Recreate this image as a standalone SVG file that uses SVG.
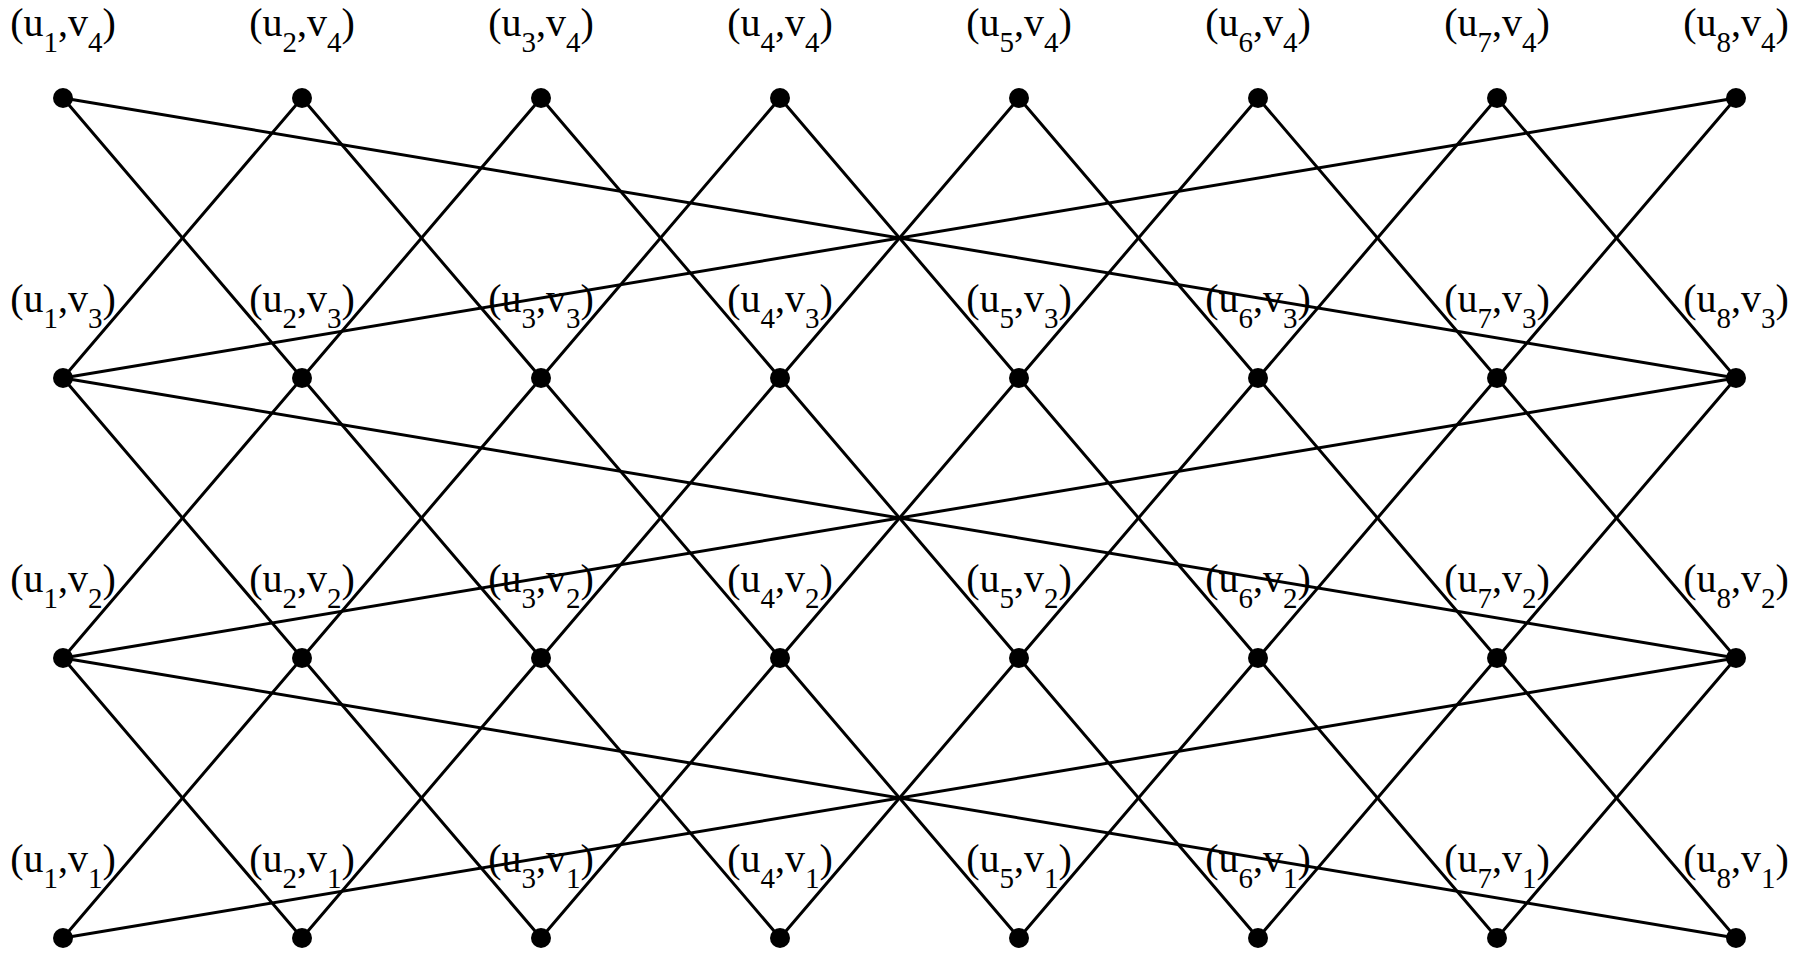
<svg xmlns="http://www.w3.org/2000/svg" width="1797" height="954" viewBox="0 0 1797 954">
<style>
.e{stroke:#000;stroke-width:3;fill:none;stroke-linecap:round}
.d{fill:#000}
.t{font-family:"Liberation Serif","Times New Roman",serif;font-size:40px;fill:#000;text-anchor:middle}
.s{font-size:29px}
</style>
<rect width="1797" height="954" fill="#fff"/>
<g id="connectors">
<line class="e" x1="63" y1="938" x2="302" y2="658"/><line class="e" x1="63" y1="658" x2="302" y2="938"/><line class="e" x1="63" y1="658" x2="302" y2="378"/><line class="e" x1="63" y1="378" x2="302" y2="658"/><line class="e" x1="63" y1="378" x2="302" y2="98"/><line class="e" x1="63" y1="98" x2="302" y2="378"/>
<line class="e" x1="302" y1="938" x2="541" y2="658"/><line class="e" x1="302" y1="658" x2="541" y2="938"/><line class="e" x1="302" y1="658" x2="541" y2="378"/><line class="e" x1="302" y1="378" x2="541" y2="658"/><line class="e" x1="302" y1="378" x2="541" y2="98"/><line class="e" x1="302" y1="98" x2="541" y2="378"/>
<line class="e" x1="541" y1="938" x2="780" y2="658"/><line class="e" x1="541" y1="658" x2="780" y2="938"/><line class="e" x1="541" y1="658" x2="780" y2="378"/><line class="e" x1="541" y1="378" x2="780" y2="658"/><line class="e" x1="541" y1="378" x2="780" y2="98"/><line class="e" x1="541" y1="98" x2="780" y2="378"/>
<line class="e" x1="780" y1="938" x2="1019" y2="658"/><line class="e" x1="780" y1="658" x2="1019" y2="938"/><line class="e" x1="780" y1="658" x2="1019" y2="378"/><line class="e" x1="780" y1="378" x2="1019" y2="658"/><line class="e" x1="780" y1="378" x2="1019" y2="98"/><line class="e" x1="780" y1="98" x2="1019" y2="378"/>
<line class="e" x1="1019" y1="938" x2="1258" y2="658"/><line class="e" x1="1019" y1="658" x2="1258" y2="938"/><line class="e" x1="1019" y1="658" x2="1258" y2="378"/><line class="e" x1="1019" y1="378" x2="1258" y2="658"/><line class="e" x1="1019" y1="378" x2="1258" y2="98"/><line class="e" x1="1019" y1="98" x2="1258" y2="378"/>
<line class="e" x1="1258" y1="938" x2="1497" y2="658"/><line class="e" x1="1258" y1="658" x2="1497" y2="938"/><line class="e" x1="1258" y1="658" x2="1497" y2="378"/><line class="e" x1="1258" y1="378" x2="1497" y2="658"/><line class="e" x1="1258" y1="378" x2="1497" y2="98"/><line class="e" x1="1258" y1="98" x2="1497" y2="378"/>
<line class="e" x1="1497" y1="938" x2="1736" y2="658"/><line class="e" x1="1497" y1="658" x2="1736" y2="938"/><line class="e" x1="1497" y1="658" x2="1736" y2="378"/><line class="e" x1="1497" y1="378" x2="1736" y2="658"/><line class="e" x1="1497" y1="378" x2="1736" y2="98"/><line class="e" x1="1497" y1="98" x2="1736" y2="378"/>
<line class="e" x1="1736" y1="938" x2="63" y2="658"/><line class="e" x1="1736" y1="658" x2="63" y2="938"/><line class="e" x1="1736" y1="658" x2="63" y2="378"/><line class="e" x1="1736" y1="378" x2="63" y2="658"/><line class="e" x1="1736" y1="378" x2="63" y2="98"/><line class="e" x1="1736" y1="98" x2="63" y2="378"/>
</g>
<g id="n1-4"><circle class="d" cx="63" cy="98" r="10"/><text class="t" x="63" y="36">(u<tspan class="s" dy="16">1</tspan><tspan dy="-16">,v</tspan><tspan class="s" dy="16">4</tspan><tspan dy="-16">)</tspan></text></g>
<g id="n2-4"><circle class="d" cx="302" cy="98" r="10"/><text class="t" x="302" y="36">(u<tspan class="s" dy="16">2</tspan><tspan dy="-16">,v</tspan><tspan class="s" dy="16">4</tspan><tspan dy="-16">)</tspan></text></g>
<g id="n3-4"><circle class="d" cx="541" cy="98" r="10"/><text class="t" x="541" y="36">(u<tspan class="s" dy="16">3</tspan><tspan dy="-16">,v</tspan><tspan class="s" dy="16">4</tspan><tspan dy="-16">)</tspan></text></g>
<g id="n4-4"><circle class="d" cx="780" cy="98" r="10"/><text class="t" x="780" y="36">(u<tspan class="s" dy="16">4</tspan><tspan dy="-16">,v</tspan><tspan class="s" dy="16">4</tspan><tspan dy="-16">)</tspan></text></g>
<g id="n5-4"><circle class="d" cx="1019" cy="98" r="10"/><text class="t" x="1019" y="36">(u<tspan class="s" dy="16">5</tspan><tspan dy="-16">,v</tspan><tspan class="s" dy="16">4</tspan><tspan dy="-16">)</tspan></text></g>
<g id="n6-4"><circle class="d" cx="1258" cy="98" r="10"/><text class="t" x="1258" y="36">(u<tspan class="s" dy="16">6</tspan><tspan dy="-16">,v</tspan><tspan class="s" dy="16">4</tspan><tspan dy="-16">)</tspan></text></g>
<g id="n7-4"><circle class="d" cx="1497" cy="98" r="10"/><text class="t" x="1497" y="36">(u<tspan class="s" dy="16">7</tspan><tspan dy="-16">,v</tspan><tspan class="s" dy="16">4</tspan><tspan dy="-16">)</tspan></text></g>
<g id="n8-4"><circle class="d" cx="1736" cy="98" r="10"/><text class="t" x="1736" y="36">(u<tspan class="s" dy="16">8</tspan><tspan dy="-16">,v</tspan><tspan class="s" dy="16">4</tspan><tspan dy="-16">)</tspan></text></g>
<g id="n1-3"><circle class="d" cx="63" cy="378" r="10"/><text class="t" x="63" y="312">(u<tspan class="s" dy="16">1</tspan><tspan dy="-16">,v</tspan><tspan class="s" dy="16">3</tspan><tspan dy="-16">)</tspan></text></g>
<g id="n2-3"><circle class="d" cx="302" cy="378" r="10"/><text class="t" x="302" y="312">(u<tspan class="s" dy="16">2</tspan><tspan dy="-16">,v</tspan><tspan class="s" dy="16">3</tspan><tspan dy="-16">)</tspan></text></g>
<g id="n3-3"><circle class="d" cx="541" cy="378" r="10"/><text class="t" x="541" y="312">(u<tspan class="s" dy="16">3</tspan><tspan dy="-16">,v</tspan><tspan class="s" dy="16">3</tspan><tspan dy="-16">)</tspan></text></g>
<g id="n4-3"><circle class="d" cx="780" cy="378" r="10"/><text class="t" x="780" y="312">(u<tspan class="s" dy="16">4</tspan><tspan dy="-16">,v</tspan><tspan class="s" dy="16">3</tspan><tspan dy="-16">)</tspan></text></g>
<g id="n5-3"><circle class="d" cx="1019" cy="378" r="10"/><text class="t" x="1019" y="312">(u<tspan class="s" dy="16">5</tspan><tspan dy="-16">,v</tspan><tspan class="s" dy="16">3</tspan><tspan dy="-16">)</tspan></text></g>
<g id="n6-3"><circle class="d" cx="1258" cy="378" r="10"/><text class="t" x="1258" y="312">(u<tspan class="s" dy="16">6</tspan><tspan dy="-16">,v</tspan><tspan class="s" dy="16">3</tspan><tspan dy="-16">)</tspan></text></g>
<g id="n7-3"><circle class="d" cx="1497" cy="378" r="10"/><text class="t" x="1497" y="312">(u<tspan class="s" dy="16">7</tspan><tspan dy="-16">,v</tspan><tspan class="s" dy="16">3</tspan><tspan dy="-16">)</tspan></text></g>
<g id="n8-3"><circle class="d" cx="1736" cy="378" r="10"/><text class="t" x="1736" y="312">(u<tspan class="s" dy="16">8</tspan><tspan dy="-16">,v</tspan><tspan class="s" dy="16">3</tspan><tspan dy="-16">)</tspan></text></g>
<g id="n1-2"><circle class="d" cx="63" cy="658" r="10"/><text class="t" x="63" y="592">(u<tspan class="s" dy="16">1</tspan><tspan dy="-16">,v</tspan><tspan class="s" dy="16">2</tspan><tspan dy="-16">)</tspan></text></g>
<g id="n2-2"><circle class="d" cx="302" cy="658" r="10"/><text class="t" x="302" y="592">(u<tspan class="s" dy="16">2</tspan><tspan dy="-16">,v</tspan><tspan class="s" dy="16">2</tspan><tspan dy="-16">)</tspan></text></g>
<g id="n3-2"><circle class="d" cx="541" cy="658" r="10"/><text class="t" x="541" y="592">(u<tspan class="s" dy="16">3</tspan><tspan dy="-16">,v</tspan><tspan class="s" dy="16">2</tspan><tspan dy="-16">)</tspan></text></g>
<g id="n4-2"><circle class="d" cx="780" cy="658" r="10"/><text class="t" x="780" y="592">(u<tspan class="s" dy="16">4</tspan><tspan dy="-16">,v</tspan><tspan class="s" dy="16">2</tspan><tspan dy="-16">)</tspan></text></g>
<g id="n5-2"><circle class="d" cx="1019" cy="658" r="10"/><text class="t" x="1019" y="592">(u<tspan class="s" dy="16">5</tspan><tspan dy="-16">,v</tspan><tspan class="s" dy="16">2</tspan><tspan dy="-16">)</tspan></text></g>
<g id="n6-2"><circle class="d" cx="1258" cy="658" r="10"/><text class="t" x="1258" y="592">(u<tspan class="s" dy="16">6</tspan><tspan dy="-16">,v</tspan><tspan class="s" dy="16">2</tspan><tspan dy="-16">)</tspan></text></g>
<g id="n7-2"><circle class="d" cx="1497" cy="658" r="10"/><text class="t" x="1497" y="592">(u<tspan class="s" dy="16">7</tspan><tspan dy="-16">,v</tspan><tspan class="s" dy="16">2</tspan><tspan dy="-16">)</tspan></text></g>
<g id="n8-2"><circle class="d" cx="1736" cy="658" r="10"/><text class="t" x="1736" y="592">(u<tspan class="s" dy="16">8</tspan><tspan dy="-16">,v</tspan><tspan class="s" dy="16">2</tspan><tspan dy="-16">)</tspan></text></g>
<g id="n1-1"><circle class="d" cx="63" cy="938" r="10"/><text class="t" x="63" y="872">(u<tspan class="s" dy="16">1</tspan><tspan dy="-16">,v</tspan><tspan class="s" dy="16">1</tspan><tspan dy="-16">)</tspan></text></g>
<g id="n2-1"><circle class="d" cx="302" cy="938" r="10"/><text class="t" x="302" y="872">(u<tspan class="s" dy="16">2</tspan><tspan dy="-16">,v</tspan><tspan class="s" dy="16">1</tspan><tspan dy="-16">)</tspan></text></g>
<g id="n3-1"><circle class="d" cx="541" cy="938" r="10"/><text class="t" x="541" y="872">(u<tspan class="s" dy="16">3</tspan><tspan dy="-16">,v</tspan><tspan class="s" dy="16">1</tspan><tspan dy="-16">)</tspan></text></g>
<g id="n4-1"><circle class="d" cx="780" cy="938" r="10"/><text class="t" x="780" y="872">(u<tspan class="s" dy="16">4</tspan><tspan dy="-16">,v</tspan><tspan class="s" dy="16">1</tspan><tspan dy="-16">)</tspan></text></g>
<g id="n5-1"><circle class="d" cx="1019" cy="938" r="10"/><text class="t" x="1019" y="872">(u<tspan class="s" dy="16">5</tspan><tspan dy="-16">,v</tspan><tspan class="s" dy="16">1</tspan><tspan dy="-16">)</tspan></text></g>
<g id="n6-1"><circle class="d" cx="1258" cy="938" r="10"/><text class="t" x="1258" y="872">(u<tspan class="s" dy="16">6</tspan><tspan dy="-16">,v</tspan><tspan class="s" dy="16">1</tspan><tspan dy="-16">)</tspan></text></g>
<g id="n7-1"><circle class="d" cx="1497" cy="938" r="10"/><text class="t" x="1497" y="872">(u<tspan class="s" dy="16">7</tspan><tspan dy="-16">,v</tspan><tspan class="s" dy="16">1</tspan><tspan dy="-16">)</tspan></text></g>
<g id="n8-1"><circle class="d" cx="1736" cy="938" r="10"/><text class="t" x="1736" y="872">(u<tspan class="s" dy="16">8</tspan><tspan dy="-16">,v</tspan><tspan class="s" dy="16">1</tspan><tspan dy="-16">)</tspan></text></g>
</svg>
